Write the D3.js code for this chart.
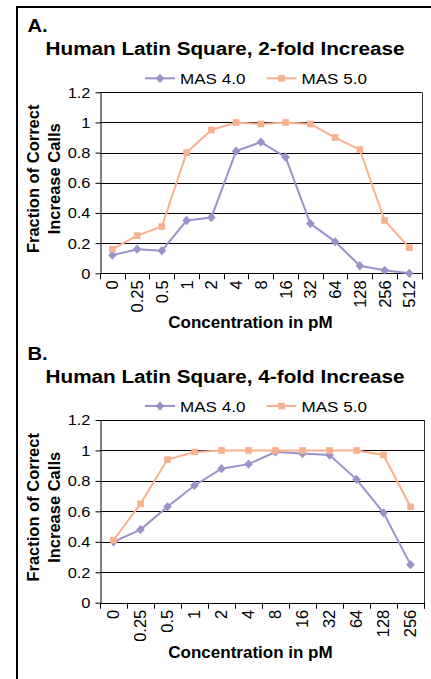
<!DOCTYPE html>
<html>
<head>
<meta charset="utf-8">
<script src="https://cdn.jsdelivr.net/npm/d3@7"></script>
<style>
  html, body { margin: 0; padding: 0; background: #fff; }
  svg { display: block; font-family: "Liberation Sans", Arial, sans-serif; }
</style>
</head>
<body>
<div id="chart"></div>
<script>
// ---- data ----
const categoriesA = ["0", "0.25", "0.5", "1", "2", "4", "8", "16", "32", "64", "128", "256", "512"];
const mas4A = [0.12, 0.16, 0.15, 0.35, 0.37, 0.81, 0.87, 0.77, 0.33, 0.21, 0.05, 0.02, 0.0];
const mas5A = [0.16, 0.25, 0.31, 0.80, 0.95, 1.0, 0.99, 1.0, 0.99, 0.90, 0.82, 0.35, 0.17];

const categoriesB = ["0", "0.25", "0.5", "1", "2", "4", "8", "16", "32", "64", "128", "256"];
const mas4B = [0.40, 0.48, 0.63, 0.77, 0.88, 0.91, 0.99, 0.98, 0.97, 0.81, 0.59, 0.25];
const mas5B = [0.41, 0.65, 0.94, 0.99, 1.0, 1.0, 1.0, 1.0, 1.0, 1.0, 0.97, 0.63];

const seriesNames = ["MAS 4.0", "MAS 5.0"];
const yTicks = [0, 0.2, 0.4, 0.6, 0.8, 1, 1.2];
const xTitle = "Concentration in pM";
const yTitle = ["Fraction of Correct", "Increase Calls"];

const colors = ["#9c92c9", "#f8b18e"];

const W = 431, H = 679;

const svg = d3.select('#chart')
    .append('svg')
    .attr('width', W)
    .attr('height', H);

// outer frame (runs off the right and bottom edges)
svg.append('path')
    .attr('d', `M17,${H + 5}V7H${W + 5}`)
    .attr('fill', 'none')
    .attr('stroke', '#000')
    .attr('stroke-width', 2);

// diamond marker, about as wide as tall
const diamond = {
    draw(ctx, size) {
        const h = Math.sqrt(size) / 2;
        ctx.moveTo(0, -h * 1.08);
        ctx.lineTo(h, 0);
        ctx.lineTo(0, h * 1.08);
        ctx.lineTo(-h, 0);
        ctx.closePath();
    }
};
const markerPath = [
    d3.symbol().type(diamond).size(74)(),
    d3.symbol().type(d3.symbolSquare).size(44)()
];

// stretch text horizontally the way the original figure is
function widen(sel, sx) {
    sel.each(function() {
        const len = this.getComputedTextLength();
        d3.select(this)
            .attr('textLength', len * sx)
            .attr('lengthAdjust', 'spacingAndGlyphs');
    });
}

function drawPanel(cfg) {
    const g = svg.append('g');

    // panel letter and title
    g.append('text')
        .attr('x', 27.5)
        .attr('y', cfg.top - 60.5)
        .style('font-size', '18px')
        .style('font-weight', 'bold')
        .text(cfg.letter)
        .call(widen, 1.12);

    g.append('text')
        .attr('x', 225)
        .attr('y', cfg.top - 37)
        .attr('text-anchor', 'middle')
        .style('font-size', '18px')
        .style('font-weight', 'bold')
        .text(cfg.title)
        .call(widen, 1.15);

    const x = d3.scaleBand()
        .domain(cfg.categories)
        .range([100, cfg.right])
        .paddingInner(0)
        .paddingOuter(0);
    const cx = c => x(c) + x.bandwidth() / 2;

    const y = d3.scaleLinear()
        .domain([0, 1.2])
        .range([cfg.bottom, cfg.top]);

    // gridlines and top border
    g.append('g')
        .selectAll('line')
        .data(yTicks.filter(d => d > 0))
        .join('line')
        .attr('x1', 100)
        .attr('x2', cfg.right)
        .attr('y1', d => Math.round(y(d)) + 0.5)
        .attr('y2', d => Math.round(y(d)) + 0.5)
        .attr('stroke', '#000')
        .attr('stroke-width', 1);

    // right border
    g.append('line')
        .attr('x1', Math.round(cfg.right) + 0.5)
        .attr('x2', Math.round(cfg.right) + 0.5)
        .attr('y1', y(1.2))
        .attr('y2', cfg.bottom + 6)
        .attr('stroke', '#333')
        .attr('stroke-width', 1);

    // y axis
    const yAxis = d3.axisLeft(y)
        .tickValues(yTicks)
        .tickSize(5)
        .tickSizeOuter(0)
        .tickPadding(5)
        .tickFormat(d => String(d));
    const ya = g.append('g')
        .attr('transform', 'translate(100.5,0)')
        .call(yAxis);
    ya.selectAll('text')
        .style('font-size', '15.5px')
        .style('font-family', '"Liberation Sans", Arial, sans-serif')
        .attr('fill', '#000')
        .call(widen, 1.06);
    ya.selectAll('line, path').attr('stroke', '#000');

    // x axis line and category boundary ticks
    g.append('line')
        .attr('x1', 100)
        .attr('x2', cfg.right)
        .attr('y1', Math.round(cfg.bottom) + 0.5)
        .attr('y2', Math.round(cfg.bottom) + 0.5)
        .attr('stroke', '#000');

    const bounds = cfg.categories.map(c => x(c)).concat([x.range()[1]]);
    g.append('g')
        .selectAll('line')
        .data(bounds)
        .join('line')
        .attr('x1', d => Math.round(d) + 0.5)
        .attr('x2', d => Math.round(d) + 0.5)
        .attr('y1', cfg.bottom)
        .attr('y2', cfg.bottom + 6)
        .attr('stroke', '#000');

    // rotated category labels
    g.append('g')
        .selectAll('text')
        .data(cfg.categories)
        .join('text')
        .attr('transform', d => `translate(${cx(d)},${cfg.bottom + 7}) rotate(-90)`)
        .attr('text-anchor', 'end')
        .attr('dy', '0.36em')
        .style('font-size', '16.5px')
        .text(d => d);

    // axis titles
    g.append('text')
        .attr('x', 250.5)
        .attr('y', cfg.bottom + 55)
        .attr('text-anchor', 'middle')
        .style('font-size', '17px')
        .style('font-weight', 'bold')
        .text(xTitle);

    const cy = (cfg.top + cfg.bottom) / 2 - 4;
    g.append('g')
        .selectAll('text')
        .data(yTitle)
        .join('text')
        .attr('transform', (d, i) => `translate(${38.5 + i * 21},${cy}) rotate(-90)`)
        .attr('text-anchor', 'middle')
        .style('font-size', '16.5px')
        .style('font-weight', 'bold')
        .text(d => d);

    // series lines and markers
    const line = d3.line()
        .x((d, i) => cx(cfg.categories[i]))
        .y(d => y(d));

    cfg.series.forEach((vals, s) => {
        g.append('path')
            .datum(vals)
            .attr('d', line)
            .attr('fill', 'none')
            .attr('stroke', colors[s])
            .attr('stroke-width', 2);
    });
    cfg.series.forEach((vals, s) => {
        g.append('g')
            .selectAll('path')
            .data(vals)
            .join('path')
            .attr('transform', (d, i) => `translate(${cx(cfg.categories[i])},${y(d)})`)
            .attr('d', markerPath[s])
            .attr('fill', colors[s]);
    });

    // legend
    const legY = cfg.top - 8.5;
    const legX = [145, 266.5];
    seriesNames.forEach((name, s) => {
        const lg = g.append('g')
            .attr('transform', `translate(${legX[s]},${legY})`);
        lg.append('line')
            .attr('x1', 0)
            .attr('x2', 30)
            .attr('y1', -5.5)
            .attr('y2', -5.5)
            .attr('stroke', colors[s])
            .attr('stroke-width', 2);
        lg.append('path')
            .attr('transform', 'translate(15,-5.5)')
            .attr('d', markerPath[s])
            .attr('fill', colors[s]);
        lg.append('text')
            .attr('x', 35)
            .attr('y', 0)
            .style('font-size', '15.5px')
            .text(name)
            .call(widen, 1.1);
    });
}

drawPanel({
    letter: 'A.',
    title: 'Human Latin Square, 2-fold Increase',
    categories: categoriesA,
    series: [mas4A, mas5A],
    top: 92.3,
    bottom: 273.3,
    right: 421.7
});

drawPanel({
    letter: 'B.',
    title: 'Human Latin Square, 4-fold Increase',
    categories: categoriesB,
    series: [mas4B, mas5B],
    top: 420,
    bottom: 602.7,
    right: 424
});
</script>
</body>
</html>
